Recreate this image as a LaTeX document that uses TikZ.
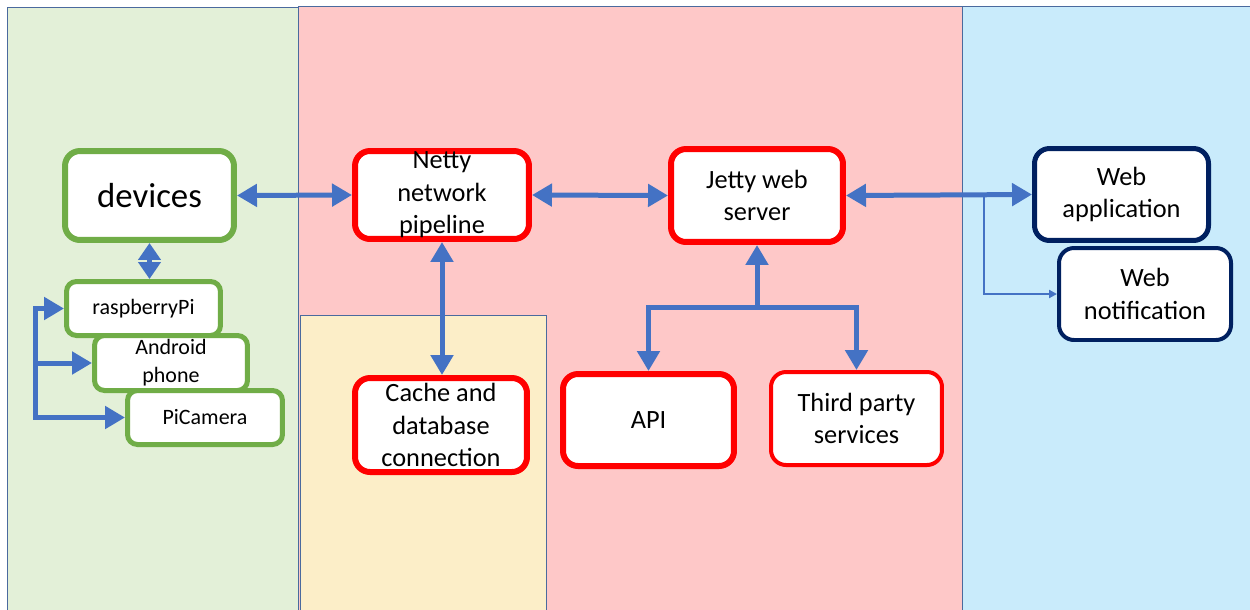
\documentclass[tikz,border=0pt]{standalone}
\usepackage{fontspec}
\setmainfont{Carlito}
\usetikzlibrary{arrows.meta,calc}
\definecolor{greenbg}{HTML}{E3F0D8}
\definecolor{pinkbg}{HTML}{FEC8C8}
\definecolor{yellowbg}{HTML}{FCEEC8}
\definecolor{bluebg}{HTML}{C9EBFB}
\definecolor{panelline}{HTML}{4A6A9E}
\definecolor{boxgreen}{HTML}{70AD47}
\definecolor{boxred}{HTML}{FF0000}
\definecolor{boxnavy}{HTML}{002060}
\definecolor{arrowblue}{HTML}{4472C4}
\newcommand\mainfs{\fontsize{15}{18.5}\selectfont}
\newcommand\bigfs{\fontsize{19.8}{24}\selectfont}
\newcommand\smallfs{\fontsize{12.5}{15.9}\selectfont}
\tikzset{
  panel/.style={draw=panelline, line width=0.02cm},
  box/.style={draw, fill=white, rounded corners=0.3cm, align=center, inner sep=0pt, font=\mainfs},
  redbox/.style={box, draw=boxred, line width=0.12cm},
  thinredbox/.style={box, draw=boxred, line width=0.08cm},
  navybox/.style={box, draw=boxnavy, line width=0.1cm},
  greenbox/.style={box, draw=boxgreen, line width=0.12cm},
  smallbox/.style={box, draw=boxgreen, line width=0.1cm, rounded corners=0.2cm, font=\smallfs},
  conn/.style={draw=arrowblue, line width=0.1cm, >={Triangle[length=0.4cm,width=0.44cm]}},
  shortconn/.style={draw=arrowblue, line width=0.1cm, >={Triangle[length=0.34cm,width=0.44cm]}},
  thinconn/.style={draw=arrowblue, line width=0.04cm, >={Triangle[length=0.16cm,width=0.16cm]}}
}
\begin{document}
\begin{tikzpicture}[x=0.02cm,y=-0.02cm]
\useasboundingbox (0,0) rectangle (1250,609);
\fill[white] (0,0) rectangle (1250,609);
% panels
\filldraw[panel, fill=greenbg] (7,7) rectangle (298,615);
\filldraw[panel, fill=pinkbg] (298,6) rectangle (962,615);
\filldraw[panel, fill=yellowbg] (300,315) rectangle (546,615);
\filldraw[panel, fill=bluebg] (962,6) rectangle (1256,615);
% main nodes
\node[greenbox, minimum width=3.38cm, minimum height=1.78cm, font=\bigfs] (devices) at (149.5,195.5) {devices};
\node[redbox, minimum width=3.48cm, minimum height=1.76cm] (netty) at (442,195) {Netty\\network\\pipeline};
\node[redbox, minimum width=3.44cm, minimum height=1.86cm] (jetty) at (757,195.5) {Jetty web\\server};
\node[redbox, minimum width=3.42cm, minimum height=1.84cm] (api) at (648.5,420) {API};
\node[thinredbox, minimum width=3.42cm, minimum height=1.86cm] (third) at (856.5,418.5) {Third party\\services};
\node[redbox, minimum width=3.44cm, minimum height=1.88cm] (cache) at (441,425) {Cache and\\database\\connection};
\node[navybox, minimum width=3.48cm, minimum height=1.84cm] (webapp) at (1121.5,194.5) {Web\\application};
\node[navybox, line width=0.08cm, minimum width=3.44cm, minimum height=1.84cm] (notif) at (1145,294) {Web\\notification};
% device nodes
\node[smallbox, minimum width=3.08cm, minimum height=1.08cm] (rasp) at (143.5,308.5) {raspberryPi};
\node[smallbox, minimum width=3.06cm, minimum height=1.1cm] (android) at (171,363) {Android\\phone};
\node[smallbox, minimum width=3.1cm, minimum height=1.08cm] (pic) at (205,417.5) {PiCamera};
% connectors
\draw[conn, <->] (devices.east) -- (netty.west);
\draw[conn, <->] (netty.east) -- (jetty.west);
\draw[conn, <->] (jetty.east) -- (webapp.west);
\coordinate (br) at (984,195);
\draw[thinconn, ->] (br) |- (notif.west);
\draw[conn, <->] (netty.south) -- (netty.south |- cache.north);
\coordinate (jb) at (757,307);
\draw[conn, ->] (jb) -- (jetty.south);
\draw[conn, ->] (jb) -| (api.north);
\draw[conn, ->] (jb) -| (third.north);
\draw[shortconn, <->] (devices.south) -- (devices.south |- rasp.north);
\coordinate (bx) at (35,0);
\draw[conn, <->] (rasp.west) -- (bx |- rasp.west) -- (bx |- pic.west) -- (pic.west);
\draw[conn, ->] (bx |- android.west) -- (android.west);
\end{tikzpicture}
\end{document}
